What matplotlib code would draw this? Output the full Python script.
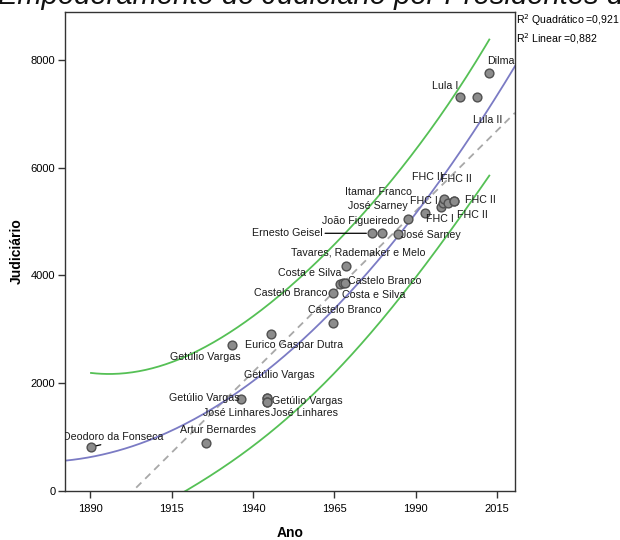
import numpy as np
import matplotlib
matplotlib.use('Agg')
import matplotlib.pyplot as plt

plt.rcParams['font.family'] = ['Liberation Sans', 'DejaVu Sans']

# Presidents (label per point), year and judiciary score
names = ['Deodoro da Fonseca', 'Artur Bernardes', 'Getúlio Vargas', 'Getúlio Vargas',
         'Getúlio Vargas', 'Getúlio Vargas', 'José Linhares', 'José Linhares',
         'Eurico Gaspar Dutra', 'Castelo Branco', 'Castelo Branco', 'Costa e Silva',
         'Castelo Branco', 'Costa e Silva', 'Tavares, Rademaker e Melo', 'Ernesto Geisel',
         'João Figueiredo', 'José Sarney', 'José Sarney', 'Itamar Franco',
         'FHC I', 'FHC I', 'FHC II', 'FHC II', 'FHC II', 'FHC II',
         'Lula I', 'Lula II', 'Dilma']
years = [1890.2, 1925.6, 1933.5, 1936.3, 1944.4, 1944.4, 1944.4, 1944.4,
         1945.5, 1964.6, 1964.7, 1966.8, 1967.6, 1968.4, 1968.6, 1976.6,
         1979.6, 1984.7, 1987.8, 1993.0, 1997.8, 1998.4, 1998.9, 2000.0,
         2001.7, 2001.7, 2003.7, 2008.9, 2012.7]
values = [817, 891, 2715, 1702, 1732, 1735, 1657, 1657,
          2914, 3112, 3669, 3842, 3855, 3866, 4182, 4783,
          4783, 4770, 5043, 5154, 5277, 5351, 5414, 5340,
          5388, 5380, 7318, 7307, 7753]

# label placement, pixels from the point (layout only)
label_offsets = [(22, 10), (12, 13), (-26, -12), (-37, 1), (40, -3), (12, 23), (37, -11), (-31, -11),
                 (23, -11), (12, 13), (-42, 0), (-30, 11), (42, 2), (28, -12), (12, 13), (-85, 0),
                 (-21, 12), (33, -1), (-30, 13), (-47, 21), (-1, -12), (-19, 2), (-17, 22), (8, 24),
                 (27, 1), (19, -14), (-15, 11), (11, -23), (12, 12)]
leader = {'Deodoro da Fonseca': (0.5, 0), 'Ernesto Geisel': (1, 0.5)}

r2_text = ['R$^{2}$ Quadrático =0,921', 'R$^{2}$ Linear =0,882']

x = np.array(years)
y = np.array(values)

# fits
lin = np.polyfit(x, y, 1)
quad = np.polyfit(x, y, 2)

# 95% prediction interval for quadratic fit
X = np.column_stack([np.ones_like(x), x - 1950, (x - 1950) ** 2])
beta, res, rk, sv = np.linalg.lstsq(X, y, rcond=None)
n, p = X.shape
s = np.sqrt(np.sum((y - X @ beta) ** 2) / (n - p))
XtX_inv = np.linalg.inv(X.T @ X)
t_val = 2.056  # t(0.975, df=26)

fig = plt.figure(figsize=(6.2, 5.4), dpi=100)
ax = fig.add_axes([65 / 620, 49 / 540, 450 / 620, 479 / 540])

xlo, xhi = 1882.2, 2020.6
xs = np.linspace(xlo, xhi, 300)
ax.plot(xs, np.polyval(lin, xs), color='#a8a8a8', lw=1.3, ls=(0, (4, 3)), zorder=2)
ax.plot(xs, np.polyval(quad, xs), color='#7b7bc4', lw=1.3, zorder=2)

xp = np.linspace(x.min(), x.max(), 300)
Xp = np.column_stack([np.ones_like(xp), xp - 1950, (xp - 1950) ** 2])
yp = Xp @ beta
half = t_val * s * np.sqrt(1 + np.einsum('ij,jk,ik->i', Xp, XtX_inv, Xp))
ax.plot(xp, yp + half, color='#55c055', lw=1.3, zorder=2)
ax.plot(xp, yp - half, color='#55c055', lw=1.3, zorder=2)

ax.scatter(x, y, s=40, facecolor='#8c8c8c', edgecolor='#505050', linewidth=1.0, zorder=3)

for nm, xi, yi, off in zip(names, x, y, label_offsets):
    kw = dict(textcoords='offset pixels', xytext=off, ha='center', va='center',
              fontsize=7.7, color='#1a1a1a', clip_on=True, zorder=4)
    if nm in leader:
        kw['arrowprops'] = dict(arrowstyle='-', color='black', lw=0.9,
                                relpos=leader[nm], shrinkA=0, shrinkB=4)
    ax.annotate(nm, (xi, yi), **kw)

ax.set_xlim(xlo, xhi)
ax.set_ylim(0, 8890)
ax.set_xticks([1890, 1915, 1940, 1965, 1990, 2015])
ax.set_yticks([0, 2000, 4000, 6000, 8000])
for sp in ax.spines.values():
    sp.set_color('#333333')
    sp.set_linewidth(1.0)
ax.tick_params(direction='out', length=5, width=1, color='#333333', labelsize=8, pad=2)
ax.tick_params(axis='x', pad=4)
ax.set_xlabel('Ano', fontsize=10, fontweight='bold', labelpad=9)
ax.set_ylabel('Judiciário', fontsize=10, fontweight='bold', labelpad=5)

fig.text(516 / 620, 1 - 20 / 540, r2_text[0], fontsize=7.6, va='center', ha='left')
fig.text(516 / 620, 1 - 39 / 540, r2_text[1], fontsize=7.6, va='center', ha='left')

fig.text(-0.004, 1 - 4 / 540, 'Empoderamento do Judiciário por Presidentes do Brasil',
         fontsize=21, style='italic', va='baseline', ha='left', color='#111111')

fig.savefig('out.png', dpi=100)
